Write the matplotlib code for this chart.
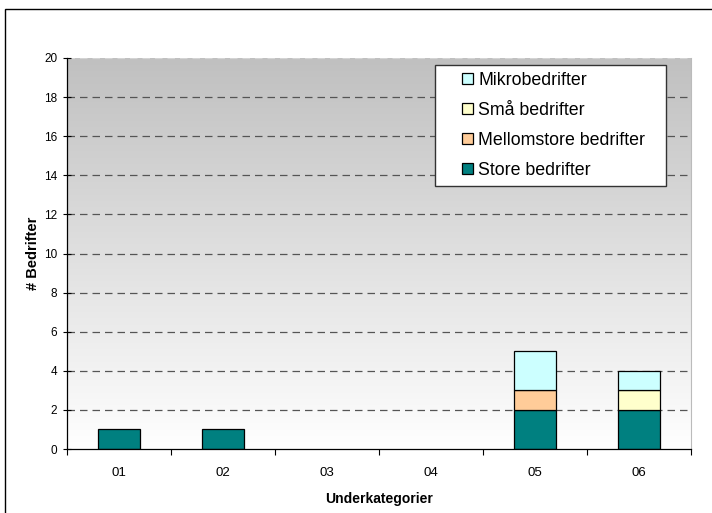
import matplotlib
matplotlib.use("Agg")
import matplotlib.pyplot as plt
import numpy as np
from matplotlib.patches import Rectangle
from matplotlib.colors import LinearSegmentedColormap
from matplotlib.legend_handler import HandlerPatch
from matplotlib.container import BarContainer

plt.rcParams['font.family'] = ['Liberation Sans', 'DejaVu Sans']

categories = ['01', '02', '03', '04', '05', '06']
store = [1, 1, 0, 0, 2, 2]
mellomstore = [0, 0, 0, 0, 1, 0]
smaa = [0, 0, 0, 0, 0, 1]
mikro = [0, 0, 0, 0, 2, 1]

series = [
    ('Store bedrifter', store, '#008080'),
    ('Mellomstore bedrifter', mellomstore, '#FFCC99'),
    ('Små bedrifter', smaa, '#FFFFCC'),
    ('Mikrobedrifter', mikro, '#CCFFFF'),
]

W, H = 712, 513
fig = plt.figure(figsize=(W / 100, H / 100), dpi=100)
fig.patches.append(Rectangle((5 / W, -0.01), 1.0, (H - 9) / H + 0.01, transform=fig.transFigure,
                             fill=False, edgecolor='black', linewidth=1.0))
ax = fig.add_axes([67 / W, (H - 449) / H, (691 - 67) / W, (449 - 58) / H])

x = np.arange(len(categories))
ax.set_xlim(-0.5, len(categories) - 0.5)
ax.set_ylim(0, 20)

grad = np.linspace(0, 1, 256).reshape(-1, 1)
cmap = LinearSegmentedColormap.from_list('g', ['#ffffff', '#c0c0c0'])
ax.imshow(grad, aspect='auto', cmap=cmap, origin='lower',
          extent=[-0.5, len(categories) - 0.5, 0, 20], zorder=0)

for yv in range(2, 20, 2):
    ax.axhline(yv, color='#555555', linestyle=(0, (6, 4)), linewidth=0.9, zorder=1)
ax.axhline(20, color='#d4d4d4', linestyle=(0, (6, 4)), linewidth=0.9, zorder=1)

bottom = np.zeros(len(categories))
handles = {}
for name, vals, col in series:
    vals = np.array(vals, dtype=float)
    mask = vals > 0
    b = ax.bar(x[mask], vals[mask], width=0.40, bottom=bottom[mask], color=col,
               edgecolor='black', linewidth=0.9, zorder=3, label=name)
    handles[name] = b
    bottom += vals

ax.set_yticks(range(0, 21, 2))
ax.set_xticks(x)
ax.set_xticklabels(categories, fontsize=9.5)
ax.set_xticks(np.arange(-0.5, len(categories), 1), minor=True)
ax.tick_params(axis='x', which='major', length=0, pad=13)
ax.tick_params(axis='x', which='minor', length=4, direction='out', width=0.8)
ax.tick_params(axis='y', length=6, direction='inout', width=0.8, labelsize=8.5, pad=4)

ax.spines['top'].set_visible(False)
ax.spines['right'].set_color('#bbbbbb')
ax.spines['right'].set_linewidth(0.8)
ax.spines['left'].set_linewidth(0.9)
ax.spines['bottom'].set_linewidth(0.9)
ax.spines['bottom'].set_zorder(4)

ax.set_ylabel('# Bedrifter', fontsize=10.5, fontweight='bold', labelpad=3)
ax.set_xlabel('Underkategorier', fontsize=10, fontweight='bold', labelpad=9)


def square_right(legend, orig_handle, xdescent, ydescent, width, height, fontsize):
    s = 11 * 72 / 100.0
    return Rectangle((width - s - xdescent, (height - s) / 2 - ydescent), s, s)


def upd(legend_handle, orig_handle):
    first = orig_handle[0]
    legend_handle.update_from(first)
    legend_handle.set_linewidth(0.9)
    legend_handle.set_edgecolor('black')


x0 = (435 - 67) / 624
x1 = (666 - 67) / 624
ytop = (449 - 65) / 391
ybot = (449 - 183) / 391
order = ['Mikrobedrifter', 'Små bedrifter', 'Mellomstore bedrifter', 'Store bedrifter']
leg = ax.legend([handles[n] for n in order], order, loc='upper left', mode='expand',
                bbox_to_anchor=(x0, ybot, x1 - x0, ytop - ybot), fontsize=12.8,
                frameon=True, fancybox=False,
                edgecolor='#333333', framealpha=1, handlelength=1.74, handleheight=0.7,
                handletextpad=0.28, labelspacing=0.72, borderpad=0.4, borderaxespad=0,
                handler_map={BarContainer: HandlerPatch(patch_func=square_right, update_func=upd)})
leg.get_frame().set_linewidth(1.0)
leg.set_zorder(5)

fig.savefig('out.png', dpi=100)
